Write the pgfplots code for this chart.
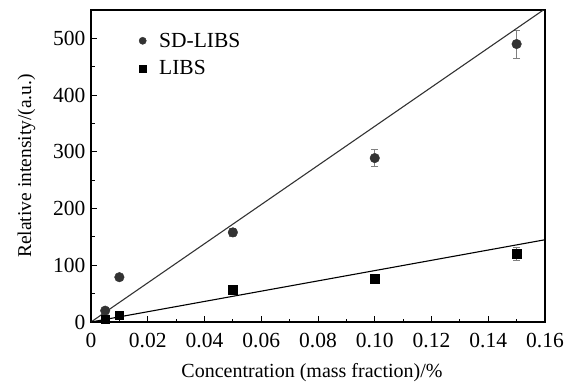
\documentclass[border=0pt]{standalone}
\usepackage{pgfplots}
\pgfplotsset{compat=1.18}
\usepackage{fontspec}
\setmainfont{Liberation Serif}
\definecolor{sdgray}{HTML}{333333}
\begin{document}
\begin{tikzpicture}
\useasboundingbox (-91pt,-61pt) rectangle (481pt,322pt);
\begin{axis}[
  scale only axis, width=454pt, height=312pt,
  xmin=0, xmax=0.16, ymin=0, ymax=550,
  axis line style={line width=1.1pt},
  tick align=inside, xtick pos=left, ytick pos=left,
  xtick={0,0.02,...,0.16},
  xticklabels={0,0.02,0.04,0.06,0.08,0.10,0.12,0.14,0.16},
  minor xtick={0.01,0.03,...,0.15},
  ytick={0,100,...,500},
  minor ytick={50,150,...,450},
  major tick length=6pt, minor tick length=3.5pt,
  every tick/.style={black, line width=0.9pt},
  /pgf/number format/assume math mode=true,
  xticklabel style={font=\fontsize{21.5}{23}\selectfont, yshift=-8pt},
  yticklabel style={font=\fontsize{21.5}{23}\selectfont, xshift=-2pt},
  xlabel={Concentration (mass fraction)/\%},
  ylabel={Relative intensity/(a.u.)},
  xlabel style={font=\fontsize{20}{22}\selectfont, yshift=-8pt, xshift=-6pt},
  ylabel style={font=\fontsize{19.5}{21}\selectfont, yshift=11pt},
  legend style={draw=none, fill=none, at={(0.097,0.94)}, anchor=north west, font=\fontsize{21.5}{23}\selectfont, row sep=8pt},
  legend cell align=left,
  legend image code/.code={\draw[#1] plot coordinates {(0.15cm,0cm)}; \path (0cm,0cm) (0.65cm,0cm);},
  clip=true,
]
\addplot[only marks, mark=*, mark size=4.8pt, color=sdgray,
  legend image post style={mark size=3.6pt},
  error bars/.cd, y dir=both, y explicit,
  error bar style={gray, line width=0.7pt},
  error mark options={rotate=90, mark size=3.5pt, gray, line width=0.7pt}]
  coordinates {
  (0.005,20) +- (0,2)
  (0.010,79) +- (0,3)
  (0.050,158) +- (0,7)
  (0.100,289) +- (0,15)
  (0.150,490) +- (0,25)
  };
\addlegendentry{SD-LIBS}
\addplot[only marks, mark=square*, mark size=4.3pt, color=black,
  legend image post style={mark size=3.3pt},
  error bars/.cd, y dir=both, y explicit,
  error bar style={gray, line width=0.7pt},
  error mark options={rotate=90, mark size=3.5pt, gray, line width=0.7pt}]
  coordinates {
  (0.005,5) +- (0,1)
  (0.010,12) +- (0,2)
  (0.050,57) +- (0,3)
  (0.100,76) +- (0,5)
  (0.150,120) +- (0,12)
  };
\addlegendentry{LIBS}
\addplot[forget plot, sdgray, line width=1.1pt] coordinates {(0,0) (0.16,552)};
\addplot[forget plot, black, line width=1.1pt] coordinates {(0,0) (0.16,145)};
\end{axis}
\end{tikzpicture}
\end{document}
